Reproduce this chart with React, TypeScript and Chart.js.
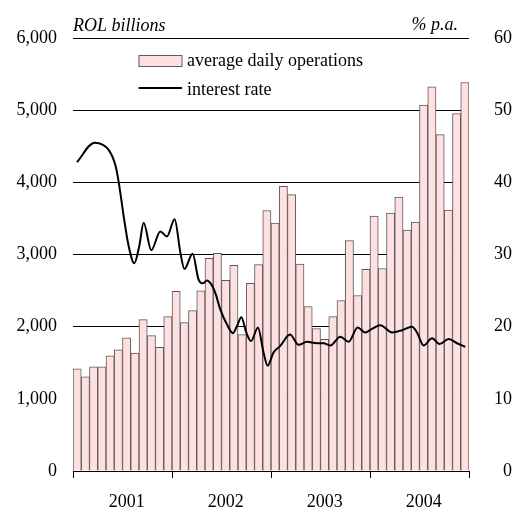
import { useEffect, useRef } from 'react';
import { Chart, registerables } from 'chart.js';

Chart.register(...registerables);

const years = ['2001', '2002', '2003', '2004'];
const monthNames = ['Jan', 'Feb', 'Mar', 'Apr', 'May', 'Jun', 'Jul', 'Aug', 'Sep', 'Oct', 'Nov', 'Dec'];
const categories = years.flatMap((y) => monthNames.map((m) => `${m} ${y}`));

// average daily operations, ROL billions
const ops2001 = [1416, 1304, 1444, 1444, 1597, 1680, 1847, 1633, 2098, 1875, 1712, 2140];
const ops2002 = [2488, 2056, 2223, 2496, 2947, 3017, 2641, 2850, 1890, 2600, 2859, 3610];
const ops2003 = [3434, 3944, 3829, 2866, 2279, 1975, 1824, 2140, 2362, 3193, 2432, 2796];
const ops2004 = [3532, 2806, 3574, 3796, 3337, 3448, 5072, 5322, 4660, 3615, 4952, 5383];
const dailyOperations = [...ops2001, ...ops2002, ...ops2003, ...ops2004];

// interest rate, % p.a. (time in months since the start of Jan 2001)
const rateMonth = [
  0.48, 2.62, 4.32, 5.13, 5.53, 6.13, 6.74, 7.43, 8.04, 8.56, 9.49, 10.58, 11.39, 12.32, 13.01, 13.5,
  14.5, 15.2, 15.76, 16.24, 16.85, 17.3, 17.85, 18.67, 19.39, 19.88, 20.4, 21.0, 21.58, 22.42, 23.1,
  23.59, 24.3, 25.1, 26.3, 27.35, 28.36, 29.58, 30.38, 31.19, 32.4, 33.41, 34.5, 35.43, 36.24, 37.25,
  38.67, 39.88, 41.09, 41.7, 42.5, 43.52, 44.44, 45.53, 46.55, 47.55,
];
const rateValue = [
  42.8, 45.5, 44.5, 42.4, 40.1, 35.4, 31.2, 28.8, 31.2, 34.4, 30.6, 33.2, 32.5, 34.9, 30.3, 28.0,
  30.1, 26.6, 26.0, 26.4, 25.7, 24.5, 22.4, 20.3, 19.1, 20.1, 21.3, 19.2, 18.0, 19.9, 16.4,
  14.6, 16.4, 17.3, 18.9, 17.5, 17.9, 17.7, 17.7, 17.4, 18.6, 17.9, 19.9, 19.2, 19.7, 20.2,
  19.2, 19.5, 20.0, 19.2, 17.4, 18.4, 17.6, 18.3, 17.7, 17.2,
];

const leftTitle = 'ROL billions';
const rightTitle = '% p.a.';
const barLabel = 'average daily operations';
const lineLabel = 'interest rate';

const FONT = "'Liberation Serif', 'Times New Roman', serif";
const BAR_FILL = '#FFE0E0';
const BAR_BORDER = '#5a5a5a';

const overlayPlugin = {
  id: 'overlay',
  afterDraw(chart: any) {
    const { ctx, chartArea } = chart;
    const { left, right, top } = chartArea;
    ctx.save();
    ctx.fillStyle = '#000';
    ctx.font = `italic 18px ${FONT}`;
    ctx.textBaseline = 'alphabetic';
    ctx.textAlign = 'left';
    ctx.fillText(leftTitle, left, 31);
    ctx.textAlign = 'right';
    ctx.fillText(rightTitle, right - 11, 30);

    // legend
    const bx = left + 65.5;
    ctx.fillStyle = BAR_FILL;
    ctx.fillRect(bx, top + 17, 43, 11);
    ctx.strokeStyle = BAR_BORDER;
    ctx.lineWidth = 1;
    ctx.strokeRect(bx + 0.5, top + 17.5, 43, 11);
    ctx.strokeStyle = '#000';
    ctx.lineWidth = 2;
    ctx.beginPath();
    ctx.moveTo(bx, top + 50);
    ctx.lineTo(bx + 43.5, top + 50);
    ctx.stroke();
    ctx.fillStyle = '#000';
    ctx.font = `18px ${FONT}`;
    ctx.textAlign = 'left';
    ctx.fillText(barLabel, bx + 48.5, top + 28);
    ctx.fillText(lineLabel, bx + 48.5, top + 57);
    ctx.restore();
  },
};

export default function App() {
  const ref = useRef<HTMLCanvasElement | null>(null);

  useEffect(() => {
    if (!ref.current) return;
    Chart.defaults.font.family = FONT;
    Chart.defaults.font.size = 18;
    Chart.defaults.color = '#000';

    const chart = new Chart(ref.current, {
      type: 'bar',
      data: {
        labels: categories,
        datasets: [
          {
            type: 'line',
            label: lineLabel,
            data: rateMonth.map((m, i) => ({ x: m, y: rateValue[i] })),
            xAxisID: 'xLine',
            yAxisID: 'y1',
            borderColor: '#000',
            borderWidth: 2,
            pointRadius: 0,
            cubicInterpolationMode: 'monotone',
            fill: false,
          } as any,
          {
            type: 'bar',
            label: barLabel,
            data: dailyOperations,
            xAxisID: 'x',
            yAxisID: 'y',
            backgroundColor: BAR_FILL,
            borderColor: BAR_BORDER,
            borderWidth: 1,
            barPercentage: 1,
            categoryPercentage: 1,
            grouped: false,
          },
        ],
      },
      options: {
        responsive: false,
        animation: false,
        layout: { padding: { top: 38, right: 3, left: 0, bottom: 0 } },
        plugins: { legend: { display: false }, tooltip: { enabled: false }, title: { display: false } },
        scales: {
          x: {
            type: 'category',
            offset: true,
            grid: {
              offset: true,
              drawOnChartArea: false,
              drawTicks: true,
              tickLength: 7,
              lineWidth: 1,
              color: (c: any) => (((c.index ?? 0) % 12 === 0) ? '#000' : 'rgba(0,0,0,0)'),
            },
            border: { display: true, color: '#000', width: 1 },
            ticks: {
              autoSkip: false,
              maxRotation: 0,
              minRotation: 0,
              padding: 13,
              callback: (_v: any, i: number) => (i % 12 === 6 ? years[Math.floor(i / 12)] : ''),
            },
            afterFit: (s: any) => {
              s.height = 38;
            },
          },
          xLine: {
            type: 'linear',
            min: 0,
            max: 48,
            offset: false,
            display: false,
          },
          y: {
            position: 'left',
            min: 0,
            max: 6000,
            ticks: {
              stepSize: 1000,
              padding: 16,
              callback: (v: any) => Number(v).toLocaleString('en-US'),
            },
            grid: { color: '#000', lineWidth: 1, drawTicks: false },
            border: { display: false },
            afterFit: (s: any) => {
              s.width = 73;
            },
          },
          y1: {
            position: 'right',
            min: 0,
            max: 60,
            ticks: { stepSize: 10, crossAlign: 'far', padding: 0 },
            grid: { display: false, drawTicks: false },
            border: { display: false },
            afterFit: (s: any) => {
              s.width = 43;
            },
          },
        } as any,
      },
      plugins: [overlayPlugin],
    });
    return () => chart.destroy();
  }, []);

  return (
    <div style={{ position: 'absolute', left: 0, top: 0, width: 515, height: 509 }}>
      <canvas ref={ref} width={515} height={509} />
    </div>
  );
}
